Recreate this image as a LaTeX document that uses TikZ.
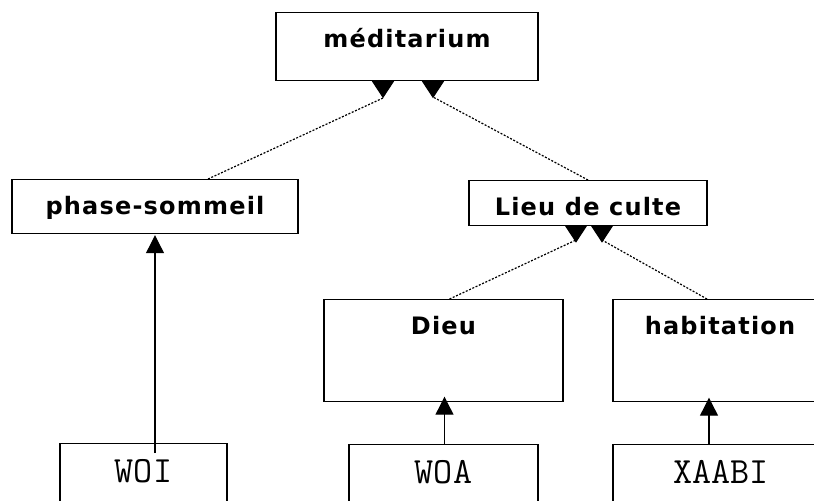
\documentclass[tikz,border=0pt]{standalone}
\usepackage{fontspec}
\setsansfont{DejaVu Sans}[LetterSpace=5]
\usetikzlibrary{arrows.meta,calc}

\begin{document}
\begin{tikzpicture}[x=0.5pt, y=-0.5pt,
  cls/.style={draw, line width=0.6pt, anchor=north, inner xsep=0pt, inner ysep=0pt, text height=17.25pt, font=\sffamily\bfseries\fontsize{12}{14}\selectfont},
  inst/.style={draw, line width=0.6pt, anchor=north, inner xsep=0pt, inner ysep=0pt, text height=19.5pt, text depth=25pt, font=\ttfamily\fontsize{18.5}{20}\selectfont},
  gen/.style={line width=0.6pt, dash pattern=on 1pt off 0.8pt, -{Triangle[reversed,length=8.5pt,width=11pt]}},
  arr/.style={line width=0.6pt, -{Triangle[length=9pt,width=9pt]}}]
\useasboundingbox (0,0) rectangle (814,500);
\clip (0,0) rectangle (814,500);
% classes
\node[cls, minimum width=131pt, text depth=16.75pt] (medit) at (407,12) {méditarium};
\node[cls, minimum width=143pt, text depth=9.75pt] (phase) at (155,179) {phase-sommeil};
\node[cls, minimum width=119pt, text depth=5pt] (lieu) at (588,180) {Lieu de culte};
\node[cls, minimum width=119.5pt, text depth=33.5pt] (dieu) at (443.5,299) {Dieu};
\node[cls, minimum width=107pt, text depth=33.5pt] (habit) at (720,299) {habitation};
% instances
\node[inst, minimum width=83.5pt] (woi) at (143.5,443) {WOI};
\node[inst, minimum width=94.5pt] (woa) at (443.5,444) {WOA};
\node[inst, minimum width=108pt] (xaabi) at (721,444) {XAABI};
% heads of the inheritance links
\coordinate (mL) at (383,98);
\coordinate (mR) at (433,97);
\coordinate (lL) at (576,240);
\coordinate (lR) at (602,240);
\draw[gen] ([xshift=26.5pt]phase.north) -- (mL) -- (mL |- medit.south);
\draw[gen] (lieu.north) -- (mR) -- (mR |- medit.south);
\draw[gen] ([xshift=3pt]dieu.north) -- (lL) -- (lL |- lieu.south);
\draw[gen] ([xshift=-6.5pt]habit.north) -- (lR) -- (lR |- lieu.south);
% instance links
\draw[arr] ($(phase.south |- woi.north)+(0,10)$) -- ($(phase.south)+(0,1)$);
\draw[arr] ($(woa.north)+(1,0)$) -- ($(dieu.south)+(1,-5)$);
\draw[arr] ($(xaabi.north)+(-12,0)$) -- ($(habit.south)+(-11,-4)$);
\end{tikzpicture}
\end{document}
